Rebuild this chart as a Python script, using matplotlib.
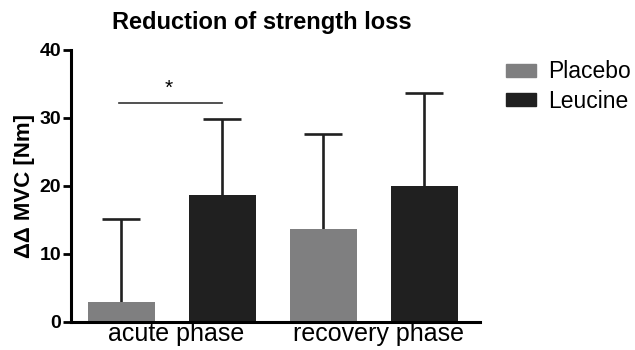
import numpy as np
import matplotlib
matplotlib.use("Agg")
import matplotlib.pyplot as plt
from matplotlib.patches import Patch

plt.rcParams['font.family'] = ['Liberation Sans', 'DejaVu Sans']

phases = ['acute phase', 'recovery phase']
groups = ['Placebo', 'Leucine']
placebo_mean = [3.0, 13.7]
placebo_sd = [12.2, 13.9]
leucine_mean = [18.7, 20.0]
leucine_sd = [11.2, 13.7]
colors = ['#7f7f80', '#202020']

fig = plt.figure(figsize=(6.35, 3.5), dpi=100)
ax = fig.add_axes([71 / 635, 28 / 350, 409 / 635, 272 / 350])

x = np.arange(len(phases)) * 2
w = 0.667
for xs, m, sd, c in [(x, placebo_mean, placebo_sd, colors[0]),
                     (x + 1, leucine_mean, leucine_sd, colors[1])]:
    m = np.array(m)
    top = m + np.array(sd)
    # upper-only error bars
    ax.vlines(xs, m, top, color='#202020', lw=1.9, zorder=1)
    ax.plot(xs, top, ls='none', marker='_', ms=27, mew=1.9, color='#202020', zorder=1)
    ax.bar(xs, m, w, color=c, zorder=2)

# significance marker
ax.plot([-0.02, 1.0], [32.2, 32.2], color='#333333', lw=1.2)
ax.text(0.47, 33.0, '*', ha='center', va='bottom', fontsize=15)

ax.set_xlim(-0.5, 3.55)
ax.set_ylim(0, 40)
ax.set_yticks([0, 10, 20, 30, 40])
ax.set_xticks(x + 0.54)
ax.set_xticklabels(phases, fontsize=18)
ax.tick_params(axis='x', length=0, pad=0)
ax.tick_params(axis='y', width=2, length=6, labelsize=14, pad=1)
for lab in ax.get_yticklabels():
    lab.set_fontweight('bold')
for s in ['top', 'right']:
    ax.spines[s].set_visible(False)
for s in ['left', 'bottom']:
    ax.spines[s].set_linewidth(2.2)
ax.set_ylabel('ΔΔ MVC [Nm]', fontsize=16, fontweight='bold', labelpad=3)
fig.text(262 / 635, 1 - 22 / 350, 'Reduction of strength loss', ha='center', va='center',
         fontsize=17, fontweight='bold')

handles = [Patch(color=c) for c in colors]
fig.legend(handles, groups, loc='upper left', bbox_to_anchor=(497 / 635, 1 - 51 / 350),
           frameon=False, fontsize=16.5, handlelength=1.31, handleheight=0.5,
           labelspacing=0.3, handletextpad=0.5, borderaxespad=0)

fig.savefig('out.png', dpi=100)
